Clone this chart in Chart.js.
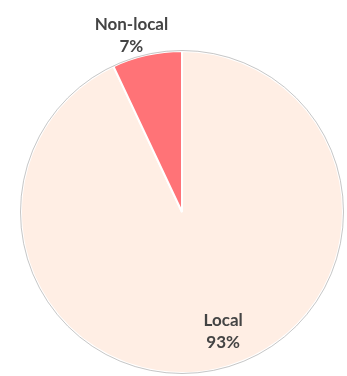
<!DOCTYPE html>
<html>
<head>
<meta charset="utf-8">
<script src="https://cdn.jsdelivr.net/npm/chart.js@4"></script>
<style>
html,body{margin:0;padding:0;background:#fff;}
#wrap{width:347px;height:376px;position:relative;}
</style>
</head>
<body>
<div id="wrap"><canvas id="c" width="347" height="376"></canvas></div>
<script>
const categories = ["Local", "Non-local"];
const values = [93, 7];
const valueLabels = ["93%", "7%"];
const colors = ["#FFEEE4", "#FF7377"];

// label placement: angle (deg, clockwise from top) and radius factor
const labelPlacement = [
  {angle: 161, r: 0.785},
  {angle: -16, r: 1.14}
];

const outlinePlugin = {
  id: 'outline',
  afterDatasetsDraw(chart) {
    const arc = chart.getDatasetMeta(0).data[0];
    if (!arc) return;
    const ctx = chart.ctx;
    ctx.save();
    ctx.beginPath();
    ctx.arc(arc.x, arc.y, arc.outerRadius + 0.5, 0, Math.PI * 2);
    ctx.strokeStyle = 'rgba(160,160,160,0.6)';
    ctx.lineWidth = 1;
    ctx.stroke();
    ctx.restore();
  }
};

const labelPlugin = {
  id: 'sliceLabels',
  afterDraw(chart) {
    const meta = chart.getDatasetMeta(0);
    const ctx = chart.ctx;
    ctx.save();
    ctx.fillStyle = '#444444';
    ctx.textAlign = 'center';
    ctx.textBaseline = 'middle';
    ctx.font = 'bold 17px Lato, "Open Sans", sans-serif';
    meta.data.forEach((arc, i) => {
      const p = labelPlacement[i];
      const a = p.angle * Math.PI / 180;
      const d = arc.outerRadius * p.r;
      const x = arc.x + Math.sin(a) * d;
      const y = arc.y - Math.cos(a) * d;
      ctx.fillText(categories[i], x, y - 11);
      ctx.fillText(valueLabels[i], x, y + 11);
    });
    ctx.restore();
  }
};

new Chart(document.getElementById('c'), {
  type: 'pie',
  data: {
    labels: categories,
    datasets: [{
      data: values,
      backgroundColor: colors,
      borderColor: '#ffffff',
      borderWidth: 2
    }]
  },
  options: {
    responsive: false,
    animation: false,
    layout: {padding: {left: 20, right: 3, top: 50, bottom: 2}},
    plugins: {legend: {display: false}, tooltip: {enabled: false}}
  },
  plugins: [outlinePlugin, labelPlugin]
});
</script>
</body>
</html>
